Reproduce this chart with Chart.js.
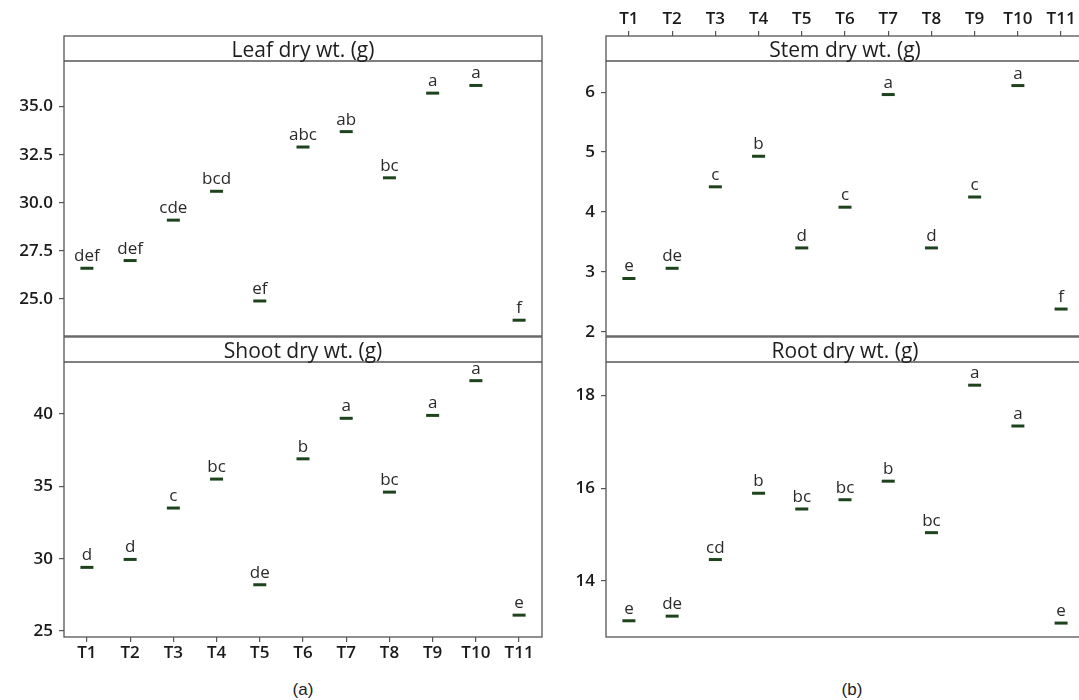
<!DOCTYPE html>
<html><head><meta charset="utf-8">
<script src="https://cdn.jsdelivr.net/npm/chart.js@4.4.0/dist/chart.umd.min.js"></script>
<style>
html,body{margin:0;padding:0;background:#fff;overflow:hidden;width:1079px;height:700px;}
.c{position:absolute;}
.lab{position:absolute;font:17px "Liberation Sans",Arial,sans-serif;color:#222;transform:translateX(-50%);line-height:20px;}
</style></head><body>
<div class="c" style="left:0;top:20px;"><canvas id="leaf" width="560" height="330"></canvas></div>
<div class="c" style="left:0;top:330px;"><canvas id="shoot" width="560" height="340"></canvas></div>
<div class="c" style="left:540px;top:0;"><canvas id="stem" width="560" height="350"></canvas></div>
<div class="c" style="left:540px;top:330px;"><canvas id="root" width="560" height="340"></canvas></div>
<div class="lab" style="left:303px;top:680px;">(a)</div>
<div class="lab" style="left:852px;top:680px;">(b)</div>
<script>
const treatments = ['T1','T2','T3','T4','T5','T6','T7','T8','T9','T10','T11'];
const leafDry = [26.6, 27.0, 29.1, 30.6, 24.9, 32.9, 33.7, 31.3, 35.7, 36.1, 23.9];
const leafLetters = ['def','def','cde','bcd','ef','abc','ab','bc','a','a','f'];
const shootDry = [29.4, 29.95, 33.5, 35.5, 28.2, 36.9, 39.7, 34.6, 39.9, 42.3, 26.1];
const shootLetters = ['d','d','c','bc','de','b','a','bc','a','a','e'];
const stemDry = [2.89, 3.06, 4.42, 4.93, 3.40, 4.08, 5.96, 3.40, 4.25, 6.11, 2.38];
const stemLetters = ['e','de','c','b','d','c','a','d','c','a','f'];
const rootDry = [13.14, 13.24, 14.46, 15.89, 15.55, 15.75, 16.15, 15.04, 18.22, 17.34, 13.09];
const rootLetters = ['e','de','cd','b','bc','bc','b','bc','a','a','e'];

const LINE = '#555555';
const FONT = '"Open Sans","DejaVu Sans",sans-serif';

const panelPlugin = {
  id: 'panel',
  afterDatasetsDraw(chart, args, opts) {
    const ctx = chart.ctx;
    const meta = chart.getDatasetMeta(0);
    ctx.save();
    ctx.fillStyle = '#2a2a2a';
    ctx.font = '17px ' + FONT;
    ctx.textAlign = 'center';
    ctx.textBaseline = 'alphabetic';
    meta.data.forEach((pt, i) => {
      ctx.fillText(opts.letters[i], pt.x, pt.y - 7);
    });
    ctx.restore();
  },
  afterDraw(chart, args, opts) {
    const ctx = chart.ctx;
    const a = chart.chartArea;
    const sh = 25;
    ctx.save();
    ctx.fillStyle = '#ffffff';
    ctx.fillRect(a.left, a.top - sh, a.right - a.left, sh);
    ctx.strokeStyle = LINE;
    ctx.lineWidth = 1.3;
    ctx.strokeRect(a.left, a.top - sh, a.right - a.left, a.bottom - a.top + sh);
    ctx.beginPath();
    ctx.moveTo(a.left, a.top);
    ctx.lineTo(a.right, a.top);
    ctx.stroke();
    ctx.fillStyle = '#1e1e1e';
    ctx.font = '21px ' + FONT;
    ctx.textAlign = 'center';
    ctx.textBaseline = 'alphabetic';
    ctx.fillText(opts.title, (a.left + a.right) / 2, a.top - 4);
    ctx.restore();
  }
};

function zeroPad(s) { s.paddingLeft = 0; s.paddingRight = 0; s.paddingTop = 0; s.paddingBottom = 0; }

function makeChart(id, values, letters, title, yMin, yMax, step, dec, xMode, yWidth, pad) {
  const pts = values.map((v, i) => ({x: i + 1, y: v}));
  const xScale = {
    type: 'linear', min: 0.47, max: 11.53,
    display: xMode !== 'none',
    position: xMode === 'top' ? 'top' : 'bottom',
    border: {display: false},
    grid: {drawOnChartArea: false, color: LINE, lineWidth: 1.2,
           tickLength: xMode === 'top' ? 30 : 5},
    ticks: {stepSize: 1, includeBounds: false, autoSkip: false, maxRotation: 0,
            padding: xMode === 'top' ? 2 : 1,
            color: '#1a1a1a', font: {family: FONT, size: 17, weight: '600'},
            callback: v => treatments[Math.round(v) - 1] || ''},
    afterFit: s => {
      s.height = xMode === 'top' ? 61 : (xMode === 'bottom' ? 30 : 0);
      zeroPad(s);
    }
  };
  return new Chart(document.getElementById(id), {
    type: 'scatter',
    data: {datasets: [{data: pts, pointStyle: 'line', pointRadius: 6.5, pointHoverRadius: 6.5,
      pointBorderWidth: 3, pointHoverBorderWidth: 3, borderColor: '#1c431c', backgroundColor: '#1c431c'}]},
    options: {
      responsive: false, animation: false,
      layout: {padding: pad},
      plugins: {legend: {display: false}, tooltip: {enabled: false},
                panel: {letters: letters, title: title}},
      scales: {
        x: xScale,
        y: {
          min: yMin, max: yMax,
          border: {display: false},
          grid: {drawOnChartArea: false, color: LINE, lineWidth: 1.2, tickLength: 5},
          ticks: {stepSize: step, includeBounds: false, padding: 6, color: '#1a1a1a',
                  font: {family: FONT, size: 17, weight: '600'},
                  callback: v => Number(v).toFixed(dec)},
          afterFit: s => { s.width = yWidth; zeroPad(s); }
        }
      }
    },
    plugins: [panelPlugin]
  });
}

makeChart('leaf', leafDry, leafLetters, 'Leaf dry wt. (g)', 23.08, 37.37, 2.5, 1, 'none', 64,
  {top: 41, right: 18, bottom: 14, left: 0});
makeChart('shoot', shootDry, shootLetters, 'Shoot dry wt. (g)', 24.59, 43.59, 5, 0, 'bottom', 64,
  {top: 32, right: 18, bottom: 3, left: 0});
makeChart('stem', stemDry, stemLetters, 'Stem dry wt. (g)', 1.93, 6.52, 1, 0, 'top', 66,
  {top: 0, right: 16, bottom: 14, left: 0});
makeChart('root', rootDry, rootLetters, 'Root dry wt. (g)', 12.79, 18.72, 2, 0, 'none', 66,
  {top: 32, right: 16, bottom: 33, left: 0});
</script>
</body></html>
